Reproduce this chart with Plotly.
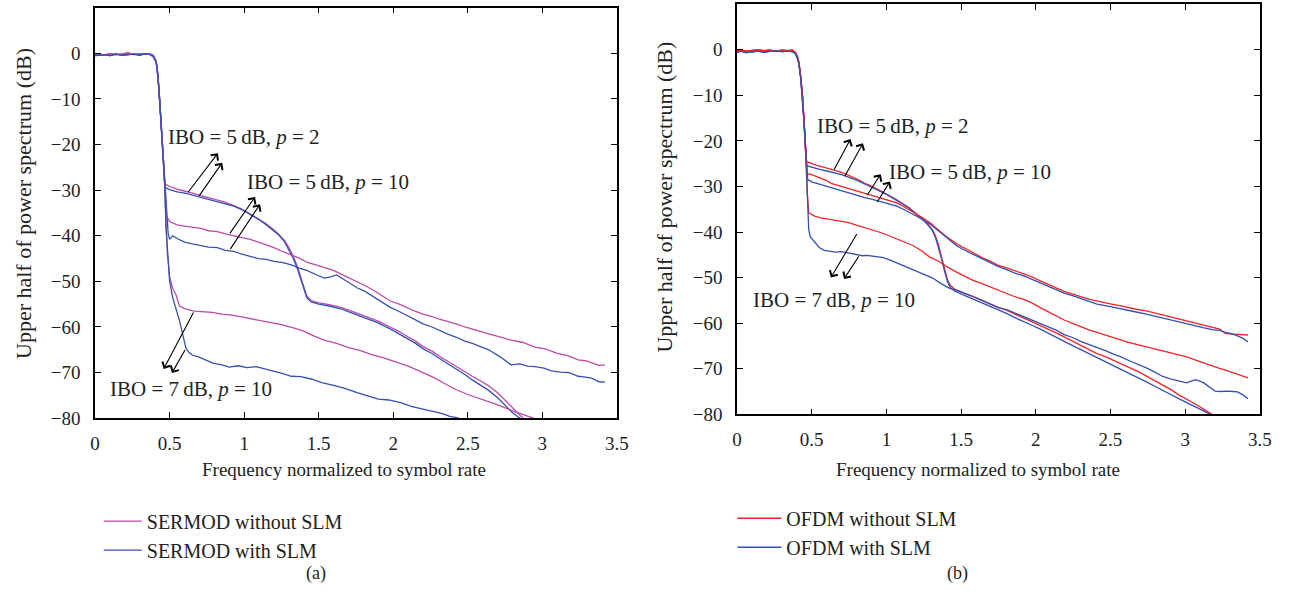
import plotly.graph_objects as go

# ---------------- colours ----------------
MAGENTA = "#bb4aa8"
BLUE = "#3550b0"
RED = "#f4242a"

# ---------------- panel (a): SERMOD ----------------
# common passband + main lobe edge
a_pass_x_mag = [0, 0.03, 0.06, 0.1, 0.14, 0.18, 0.22, 0.26, 0.3, 0.34, 0.37, 0.39, 0.41, 0.422, 0.433, 0.443, 0.453, 0.462]
a_pass_y_mag = [-0.3, -0.2, -0.4, -0.1, -0.3, -0.2, 0.1, -0.3, -0.1, -0.2, -0.2, -0.5, -1.8, -5.0, -9.8, -15.0, -20.6, -25.5]
a_pass_x_blu = [0, 0.03, 0.06, 0.1, 0.14, 0.18, 0.22, 0.26, 0.3, 0.34, 0.37, 0.39, 0.41, 0.422, 0.433, 0.443, 0.453, 0.462]
a_pass_y_blu = [-0.5, -0.4, -0.3, -0.5, -0.2, -0.4, -0.3, -0.2, -0.4, -0.1, -0.3, -0.7, -2.0, -5.3, -10.2, -15.4, -21.0, -26.0]

# IBO = 5 dB, p = 2
a_p2_mag_x = [0.468, 0.5, 0.55, 0.61, 0.68, 0.74, 0.81, 0.874, 0.93, 0.98, 1.04, 1.095, 1.14, 1.18, 1.23, 1.27, 1.3, 1.33, 1.36, 1.39, 1.42, 1.45, 1.5, 1.57, 1.647, 1.72, 1.8, 1.89, 1.98, 2.04, 2.1, 2.15, 2.2, 2.26, 2.31, 2.37, 2.42, 2.48, 2.53, 2.59, 2.64, 2.7, 2.75, 2.81, 2.87]
a_p2_mag_y = [-28.6, -29.2, -29.8, -30.3, -31.0, -31.5, -32.1, -32.7, -33.4, -34.1, -35.2, -36.2, -37.2, -38.2, -39.6, -41.0, -42.6, -44.6, -47.0, -50.2, -53.2, -54.2, -54.7, -55.1, -55.7, -56.5, -57.5, -58.6, -60.0, -61.0, -62.2, -63.1, -64.3, -65.3, -66.4, -67.6, -68.6, -69.9, -70.8, -71.9, -72.9, -74.4, -76.0, -77.9, -80.0]
a_p2_blu_x = [0.468, 0.5, 0.55, 0.61, 0.68, 0.74, 0.81, 0.874, 0.93, 0.98, 1.04, 1.095, 1.14, 1.18, 1.23, 1.27, 1.3, 1.33, 1.36, 1.39, 1.42, 1.45, 1.5, 1.57, 1.647, 1.72, 1.8, 1.89, 1.98, 2.04, 2.1, 2.15, 2.2, 2.26, 2.31, 2.37, 2.42, 2.48, 2.53, 2.59, 2.64, 2.7, 2.75, 2.8, 2.85]
a_p2_blu_y = [-29.4, -29.9, -30.4, -30.7, -31.3, -31.7, -32.3, -32.9, -33.5, -34.2, -35.3, -36.4, -37.4, -38.4, -39.8, -41.3, -43.0, -45.0, -47.5, -50.6, -53.6, -54.5, -55.0, -55.4, -56.0, -56.9, -57.9, -59.0, -60.4, -61.5, -62.6, -63.6, -64.8, -65.8, -66.9, -68.1, -69.2, -70.4, -71.6, -72.8, -73.9, -75.5, -77.2, -78.8, -80.0]

# IBO = 5 dB, p = 10
a_p10_mag_x = [0.472, 0.48, 0.5, 0.55, 0.6, 0.654, 0.71, 0.76, 0.82, 0.874, 0.93, 0.98, 1.04, 1.095, 1.15, 1.2, 1.26, 1.316, 1.37, 1.42, 1.48, 1.536, 1.6, 1.65, 1.7, 1.757, 1.81, 1.87, 1.92, 1.98, 2.04, 2.09, 2.15, 2.2, 2.26, 2.31, 2.37, 2.42, 2.48, 2.53, 2.59, 2.64, 2.72, 2.79, 2.87, 2.95, 3.02, 3.1, 3.17, 3.24, 3.29, 3.33, 3.38, 3.42]
a_p10_mag_y = [-32.0, -35.8, -36.9, -37.6, -37.9, -38.2, -38.4, -38.9, -39.1, -39.6, -40.0, -40.5, -40.8, -41.4, -42.0, -42.6, -43.5, -44.3, -44.9, -45.8, -46.4, -47.1, -47.6, -48.4, -49.2, -50.0, -50.9, -52.0, -53.1, -54.3, -55.0, -55.8, -56.6, -57.2, -57.7, -58.3, -58.8, -59.3, -60.0, -60.5, -61.0, -61.5, -62.2, -62.9, -63.4, -64.4, -64.8, -65.8, -66.3, -67.2, -67.4, -67.9, -68.4, -68.3]
a_p10_blu_x = [0.475, 0.49, 0.5, 0.52, 0.55, 0.6, 0.654, 0.71, 0.76, 0.82, 0.874, 0.93, 0.98, 1.04, 1.095, 1.15, 1.2, 1.26, 1.316, 1.37, 1.42, 1.48, 1.536, 1.58, 1.62, 1.65, 1.7, 1.757, 1.81, 1.87, 1.92, 1.98, 2.04, 2.09, 2.15, 2.2, 2.26, 2.31, 2.37, 2.42, 2.48, 2.53, 2.59, 2.64, 2.72, 2.79, 2.85, 2.9, 2.95, 3.01, 3.06, 3.12, 3.18, 3.24, 3.29, 3.33, 3.38, 3.42]
a_p10_blu_y = [-34.0, -39.5, -40.8, -40.0, -40.6, -41.4, -41.8, -42.2, -42.5, -42.6, -43.2, -43.4, -44.0, -44.5, -45.0, -45.2, -45.6, -45.9, -46.4, -47.1, -47.6, -48.5, -49.3, -49.0, -48.6, -49.2, -50.3, -51.4, -52.2, -53.5, -54.5, -55.7, -56.6, -57.5, -58.5, -59.3, -60.0, -60.8, -61.6, -62.2, -63.1, -63.6, -64.3, -65.0, -66.6, -68.3, -68.1, -68.6, -68.7, -69.0, -69.6, -69.9, -70.0, -70.8, -71.0, -71.2, -72.0, -72.1]

# IBO = 7 dB, p = 10
a_i7_mag_x = [0.468, 0.475, 0.485, 0.5, 0.52, 0.543, 0.566, 0.61, 0.665, 0.72, 0.786, 0.85, 0.92, 1.0, 1.08, 1.16, 1.25, 1.33, 1.4, 1.47, 1.536, 1.62, 1.7, 1.78, 1.85, 1.93, 2.0, 2.1, 2.2, 2.28, 2.35, 2.42, 2.5, 2.57, 2.64, 2.71, 2.8, 2.87, 2.94]
a_i7_mag_y = [-29.0, -36.0, -44.0, -49.0, -51.5, -53.0, -55.4, -56.1, -56.5, -56.6, -56.8, -57.2, -57.4, -57.9, -58.4, -58.8, -59.5, -60.2, -60.9, -62.0, -62.9, -63.6, -64.5, -65.2, -66.0, -66.7, -67.5, -68.6, -70.0, -71.2, -72.5, -73.7, -74.8, -75.6, -76.3, -77.2, -78.4, -79.2, -80.0]
a_i7_blu_x = [0.468, 0.475, 0.49, 0.5, 0.52, 0.543, 0.566, 0.59, 0.61, 0.63, 0.654, 0.69, 0.72, 0.76, 0.79, 0.85, 0.9, 0.96, 1.02, 1.08, 1.14, 1.2, 1.26, 1.316, 1.38, 1.45, 1.52, 1.6, 1.68, 1.757, 1.83, 1.9, 1.97, 2.05, 2.12, 2.2, 2.27, 2.33, 2.38, 2.44]
a_i7_blu_y = [-29.5, -38.0, -46.0, -50.0, -53.5, -56.0, -58.6, -62.0, -64.7, -65.6, -66.2, -66.5, -66.9, -67.6, -67.9, -68.3, -68.8, -68.5, -68.9, -68.7, -69.2, -69.6, -70.2, -70.8, -70.9, -71.4, -72.2, -72.8, -73.5, -74.4, -75.1, -75.8, -76.0, -76.6, -77.4, -78.0, -78.5, -79.0, -79.6, -80.0]

# ---------------- panel (b): OFDM ----------------
b_pass_x_red = [0, 0.03, 0.06, 0.1, 0.14, 0.18, 0.22, 0.26, 0.3, 0.34, 0.37, 0.39, 0.405, 0.414, 0.427, 0.44, 0.448, 0.456, 0.463]
b_pass_y_red = [-0.2, -0.1, -0.3, -0.2, 0.0, -0.2, -0.1, -0.3, -0.1, -0.2, -0.1, -0.6, -1.6, -2.7, -6.0, -10.6, -15.0, -19.2, -24.3]
b_pass_x_blu = [0, 0.03, 0.06, 0.1, 0.14, 0.18, 0.22, 0.26, 0.3, 0.34, 0.37, 0.39, 0.405, 0.414, 0.427, 0.44, 0.448, 0.456, 0.463]
b_pass_y_blu = [-0.5, -0.3, -0.6, -0.4, -0.3, -0.5, -0.4, -0.2, -0.4, -0.3, -0.4, -0.8, -1.9, -3.0, -6.4, -11.0, -15.5, -19.8, -24.8]

# IBO = 5 dB, p = 2
b_p2_red_x = [0.47, 0.5, 0.53, 0.56, 0.6, 0.65, 0.7, 0.75, 0.8, 0.85, 0.9, 0.95, 1.01, 1.07, 1.11, 1.15, 1.19, 1.22, 1.25, 1.28, 1.31, 1.33, 1.35, 1.37, 1.39, 1.41, 1.43, 1.46, 1.53, 1.58, 1.64, 1.7, 1.75, 1.8, 1.86, 1.92, 1.97, 2.03, 2.08, 2.14, 2.19, 2.25, 2.3, 2.36, 2.41, 2.47, 2.52, 2.58, 2.63, 2.69, 2.74, 2.8, 2.85, 2.91, 2.96, 3.02, 3.07, 3.12, 3.18]
b_p2_red_y = [-24.6, -25.0, -25.3, -25.6, -25.9, -26.4, -26.9, -27.6, -28.3, -29.2, -29.9, -30.8, -31.8, -32.9, -33.8, -34.6, -35.7, -36.5, -37.4, -38.4, -39.6, -41.0, -43.0, -45.6, -48.3, -50.6, -51.8, -52.6, -53.5, -54.1, -55.0, -55.9, -56.6, -57.1, -58.0, -58.9, -59.5, -60.4, -61.2, -62.2, -63.0, -64.0, -64.8, -65.9, -66.7, -67.4, -68.2, -69.0, -69.8, -70.7, -71.6, -72.6, -73.6, -74.7, -75.8, -76.8, -77.8, -78.8, -80.0]
b_p2_blu_x = [0.47, 0.5, 0.53, 0.56, 0.6, 0.65, 0.7, 0.75, 0.8, 0.85, 0.9, 0.95, 1.01, 1.07, 1.11, 1.15, 1.19, 1.22, 1.25, 1.28, 1.31, 1.33, 1.35, 1.37, 1.39, 1.41, 1.43, 1.46, 1.53, 1.58, 1.64, 1.7, 1.75, 1.8, 1.86, 1.92, 1.97, 2.03, 2.08, 2.14, 2.19, 2.25, 2.3, 2.36, 2.41, 2.47, 2.52, 2.58, 2.63, 2.69, 2.74, 2.8, 2.85, 2.91, 2.96, 3.02, 3.07, 3.12, 3.17]
b_p2_blu_y = [-25.5, -25.8, -26.0, -26.3, -26.6, -27.0, -27.4, -28.0, -28.6, -29.4, -30.1, -30.9, -31.9, -33.0, -33.9, -34.7, -35.8, -36.6, -37.5, -38.5, -39.8, -41.3, -43.4, -46.0, -48.7, -51.0, -52.3, -53.0, -54.0, -54.7, -55.6, -56.5, -57.2, -57.8, -58.8, -59.6, -60.4, -61.3, -62.2, -63.1, -64.0, -65.0, -65.8, -66.8, -67.5, -68.4, -69.3, -70.2, -71.1, -72.0, -72.9, -73.9, -74.8, -75.7, -76.6, -77.6, -78.4, -79.2, -80.0]

# IBO = 5 dB, p = 10
b_p10_red_x = [0.466, 0.47, 0.5, 0.53, 0.56, 0.6, 0.63, 0.68, 0.74, 0.79, 0.85, 0.9, 0.96, 1.01, 1.07, 1.12, 1.18, 1.24, 1.29, 1.35, 1.4, 1.47, 1.53, 1.58, 1.64, 1.7, 1.75, 1.81, 1.86, 1.92, 1.97, 2.03, 2.08, 2.14, 2.19, 2.25, 2.3, 2.36, 2.41, 2.49, 2.57, 2.62, 2.68, 2.74, 2.79, 2.85, 2.9, 2.96, 3.01, 3.07, 3.12, 3.18, 3.23, 3.27, 3.31, 3.35, 3.39, 3.42]
b_p10_red_y = [-26.0, -27.2, -27.4, -27.8, -28.2, -28.7, -29.3, -29.8, -30.4, -30.9, -31.5, -32.0, -32.5, -33.0, -33.6, -34.5, -35.6, -36.8, -37.9, -39.5, -41.0, -42.6, -43.7, -44.6, -45.6, -46.5, -47.3, -47.9, -48.5, -49.1, -49.8, -50.7, -51.5, -52.3, -53.0, -53.7, -54.2, -54.8, -55.2, -55.7, -56.2, -56.6, -57.0, -57.3, -57.7, -58.2, -58.6, -59.1, -59.5, -60.0, -60.4, -60.9, -61.3, -62.3, -62.4, -62.5, -62.6, -62.6]
b_p10_blu_x = [0.468, 0.473, 0.5, 0.53, 0.56, 0.6, 0.63, 0.68, 0.74, 0.79, 0.85, 0.9, 0.96, 1.01, 1.07, 1.12, 1.18, 1.24, 1.29, 1.35, 1.4, 1.47, 1.53, 1.58, 1.64, 1.7, 1.75, 1.81, 1.86, 1.92, 1.97, 2.03, 2.08, 2.14, 2.19, 2.25, 2.3, 2.36, 2.41, 2.49, 2.57, 2.62, 2.68, 2.74, 2.79, 2.85, 2.9, 2.96, 3.01, 3.07, 3.12, 3.18, 3.23, 3.27, 3.31, 3.35, 3.39, 3.42]
b_p10_blu_y = [-27.0, -28.5, -29.0, -29.3, -29.5, -29.9, -30.2, -30.7, -31.3, -31.8, -32.4, -32.8, -33.3, -33.8, -34.3, -35.1, -36.1, -37.2, -38.2, -39.8, -41.3, -43.0, -44.1, -44.9, -45.9, -46.8, -47.6, -48.3, -49.0, -49.6, -50.3, -51.0, -51.8, -52.6, -53.4, -54.0, -54.6, -55.2, -55.8, -56.3, -56.9, -57.3, -57.6, -58.0, -58.4, -58.9, -59.3, -59.8, -60.2, -60.7, -61.0, -61.4, -61.6, -62.0, -62.3, -62.8, -63.4, -64.1]

# IBO = 7 dB, p = 10
b_i7_red_x = [0.466, 0.47, 0.48, 0.52, 0.56, 0.6, 0.65, 0.7, 0.74, 0.8, 0.85, 0.9, 0.96, 1.01, 1.07, 1.12, 1.18, 1.24, 1.29, 1.35, 1.4, 1.47, 1.53, 1.58, 1.64, 1.7, 1.75, 1.81, 1.86, 1.92, 1.97, 2.03, 2.08, 2.14, 2.19, 2.25, 2.3, 2.36, 2.41, 2.49, 2.57, 2.62, 2.68, 2.74, 2.79, 2.85, 2.9, 2.96, 3.01, 3.07, 3.12, 3.18, 3.23, 3.28, 3.33, 3.38, 3.42]
b_i7_red_y = [-27.0, -31.0, -35.8, -36.5, -36.9, -37.1, -37.4, -37.7, -37.9, -38.5, -39.0, -39.4, -40.1, -40.7, -41.5, -42.2, -43.0, -44.2, -45.5, -46.4, -47.5, -48.8, -49.8, -50.6, -51.3, -52.1, -52.7, -53.6, -54.2, -54.8, -55.5, -56.6, -57.5, -58.5, -59.3, -60.1, -60.8, -61.5, -62.0, -62.9, -63.8, -64.2, -64.7, -65.2, -65.6, -66.1, -66.5, -67.0, -67.4, -68.1, -68.7, -69.4, -69.9, -70.4, -71.0, -71.6, -72.0]
b_i7_blu_x = [0.466, 0.47, 0.475, 0.48, 0.49, 0.517, 0.55, 0.584, 0.62, 0.66, 0.7, 0.75, 0.8, 0.84, 0.87, 0.92, 0.98, 1.03, 1.09, 1.14, 1.2, 1.25, 1.31, 1.36, 1.42, 1.47, 1.53, 1.58, 1.64, 1.7, 1.75, 1.81, 1.86, 1.92, 1.97, 2.03, 2.08, 2.14, 2.19, 2.25, 2.3, 2.36, 2.41, 2.47, 2.52, 2.57, 2.63, 2.69, 2.74, 2.8, 2.85, 2.9, 2.95, 3.01, 3.04, 3.07, 3.12, 3.16, 3.2, 3.24, 3.28, 3.32, 3.35, 3.39, 3.42]
b_i7_blu_y = [-27.0, -32.0, -36.5, -39.4, -41.0, -42.2, -43.4, -44.0, -44.2, -44.4, -44.3, -44.6, -44.8, -45.2, -45.1, -45.4, -45.6, -46.2, -47.0, -47.7, -48.6, -49.2, -50.1, -51.2, -52.3, -52.8, -53.5, -54.2, -55.0, -55.9, -56.6, -57.1, -57.8, -58.6, -59.3, -60.1, -60.9, -61.6, -62.5, -63.2, -64.0, -64.7, -65.4, -66.1, -66.8, -67.4, -68.3, -69.1, -69.8, -70.8, -71.7, -72.2, -72.6, -73.1, -72.7, -72.4, -73.0, -73.9, -74.9, -75.0, -74.9, -75.0, -75.1, -75.8, -76.6]

# ---------------- text ----------------
legend_a = ["SERMOD without SLM", "SERMOD with SLM"]
legend_b = ["OFDM without SLM", "OFDM with SLM"]
label_p2 = "IBO = 5\u2009dB, <i>p</i> = 2"
label_p10 = "IBO = 5\u2009dB, <i>p</i> = 10"
label_i7 = "IBO = 7\u2009dB, <i>p</i> = 10"
x_title = "Frequency normalized to symbol rate"
y_title = "Upper half of power spectrum (dB)"
captions = ["(a)", "(b)"]

FONT = "Liberation Serif, Times New Roman, serif"
W, H = 1301, 603

fig = go.Figure()


def add_curve(px, py, x, y, color, name, show, xa, ya, legend):
    fig.add_trace(go.Scatter(
        x=px + x, y=py + y, mode="lines",
        line=dict(color=color, width=1.3),
        name=name, legendgroup=legend + name, showlegend=show,
        xaxis=xa, yaxis=ya, legend=legend, hoverinfo="skip"))


# panel (a)
add_curve(a_pass_x_mag, a_pass_y_mag, a_p2_mag_x, a_p2_mag_y, MAGENTA, legend_a[0], True, "x", "y", "legend")
add_curve(a_pass_x_blu, a_pass_y_blu, a_p2_blu_x, a_p2_blu_y, BLUE, legend_a[1], True, "x", "y", "legend")
add_curve(a_pass_x_mag, a_pass_y_mag, a_p10_mag_x, a_p10_mag_y, MAGENTA, legend_a[0], False, "x", "y", "legend")
add_curve(a_pass_x_blu, a_pass_y_blu, a_p10_blu_x, a_p10_blu_y, BLUE, legend_a[1], False, "x", "y", "legend")
add_curve(a_pass_x_mag, a_pass_y_mag, a_i7_mag_x, a_i7_mag_y, MAGENTA, legend_a[0], False, "x", "y", "legend")
add_curve(a_pass_x_blu, a_pass_y_blu, a_i7_blu_x, a_i7_blu_y, BLUE, legend_a[1], False, "x", "y", "legend")

# panel (b)
add_curve(b_pass_x_red, b_pass_y_red, b_p2_red_x, b_p2_red_y, RED, legend_b[0], True, "x2", "y2", "legend2")
add_curve(b_pass_x_blu, b_pass_y_blu, b_p2_blu_x, b_p2_blu_y, BLUE, legend_b[1], True, "x2", "y2", "legend2")
add_curve(b_pass_x_red, b_pass_y_red, b_p10_red_x, b_p10_red_y, RED, legend_b[0], False, "x2", "y2", "legend2")
add_curve(b_pass_x_blu, b_pass_y_blu, b_p10_blu_x, b_p10_blu_y, BLUE, legend_b[1], False, "x2", "y2", "legend2")
add_curve(b_pass_x_red, b_pass_y_red, b_i7_red_x, b_i7_red_y, RED, legend_b[0], False, "x2", "y2", "legend2")
add_curve(b_pass_x_blu, b_pass_y_blu, b_i7_blu_x, b_i7_blu_y, BLUE, legend_b[1], False, "x2", "y2", "legend2")

axis_common = dict(
    showline=True, linecolor="black", linewidth=1.5, mirror="ticks",
    ticks="inside", ticklen=6, tickwidth=1.3, tickcolor="black",
    showgrid=False, zeroline=False,
    tickfont=dict(family=FONT, size=19, color="#222"),
)

fig.update_layout(
    width=W, height=H,
    margin=dict(l=0, r=0, t=0, b=0),
    paper_bgcolor="white", plot_bgcolor="white",
    font=dict(family=FONT, color="#222"),
    xaxis=dict(domain=[91.3 / W, 620 / W], range=[0, 3.5], dtick=0.5, anchor="y",
               ticklabelstandoff=7, **axis_common),
    yaxis=dict(domain=[1 - 426 / H, 1 - 7.8 / H], range=[-80, 10], dtick=10, anchor="x",
               ticklabelstandoff=9, **axis_common),
    xaxis2=dict(domain=[741.7 / W, 1271.5 / W], range=[0, 3.5], dtick=0.5, anchor="y2",
                ticklabelstandoff=7, **axis_common),
    yaxis2=dict(domain=[1 - 422 / H, 1 - 4.3 / H], range=[-80, 10], dtick=10, anchor="x2",
                ticklabelstandoff=9, **axis_common),
    legend=dict(x=95 / W, y=1 - 511 / H, xanchor="left", yanchor="top",
                bgcolor="rgba(0,0,0,0)", font=dict(family=FONT, size=20, color="#222"),
                tracegroupgap=0, itemwidth=38),
    legend2=dict(x=737 / W, y=1 - 508 / H, xanchor="left", yanchor="top",
                 bgcolor="rgba(0,0,0,0)", font=dict(family=FONT, size=20, color="#222"),
                 tracegroupgap=0, itemwidth=44),
    showlegend=True,
)

ann = []
# axis titles
ann.append(dict(text=y_title, x=18 / W, y=1 - 207 / H, xref="paper", yref="paper",
                xanchor="center", yanchor="middle",
                textangle=-90, showarrow=False, font=dict(size=22)))
ann.append(dict(text=y_title, x=668 / W, y=1 - 201 / H, xref="paper", yref="paper",
                xanchor="center", yanchor="middle",
                textangle=-90, showarrow=False, font=dict(size=22)))
ann.append(dict(text=x_title, x=343.5 / W, y=1 - 478 / H, xref="paper", yref="paper",
                xanchor="center", yanchor="middle", showarrow=False, font=dict(size=19)))
ann.append(dict(text=x_title, x=986 / W, y=1 - 478 / H, xref="paper", yref="paper",
                xanchor="center", yanchor="middle", showarrow=False, font=dict(size=19)))
# captions
ann.append(dict(text=captions[0], x=315 / W, y=1 - 584 / H, xref="paper", yref="paper",
                xanchor="center", yanchor="middle", showarrow=False, font=dict(size=18)))
ann.append(dict(text=captions[1], x=965 / W, y=1 - 584 / H, xref="paper", yref="paper",
                xanchor="center", yanchor="middle", showarrow=False, font=dict(size=18)))

# curve labels
labels = [
    ("x", "y", label_p2, 0.475, -18.3),
    ("x", "y", label_p10, 1.003, -28.2),
    ("x", "y", label_i7, 0.085, -73.5),
    ("x2", "y2", label_p2, 0.525, -16.7),
    ("x2", "y2", label_p10, 1.007, -26.9),
    ("x2", "y2", label_i7, 0.095, -55.0),
]
for xr, yr, t, xv, yv in labels:
    ann.append(dict(text=t, x=xv, y=yv, xref=xr, yref=yr, xanchor="left", yanchor="middle",
                    showarrow=False, font=dict(size=21)))

# arrows: (head x, head y, tail x, tail y)
arrows = [
    ("x", "y", 0.824, -21.9, 0.616, -30.8),
    ("x", "y", 0.852, -24.0, 0.691, -31.6),
    ("x", "y", 1.073, -31.5, 0.897, -39.8),
    ("x", "y", 1.106, -33.1, 0.901, -43.2),
    ("x", "y", 0.460, -69.2, 0.665, -56.5),
    ("x", "y", 0.515, -70.1, 0.609, -64.7),
    ("x2", "y2", 0.760, -19.6, 0.645, -26.6),
    ("x2", "y2", 0.843, -20.5, 0.716, -28.1),
    ("x2", "y2", 0.962, -27.3, 0.866, -32.2),
    ("x2", "y2", 1.024, -28.9, 0.932, -33.75),
    ("x2", "y2", 0.628, -50.0, 0.808, -40.1),
    ("x2", "y2", 0.716, -50.3, 0.822, -45.0),
]
for xr, yr, hx, hy, tx, ty in arrows:
    ann.append(dict(text="", x=hx, y=hy, ax=tx, ay=ty, xref=xr, yref=yr,
                    axref=xr, ayref=yr, showarrow=True, arrowhead=4,
                    arrowsize=1.6, arrowwidth=1.1, arrowcolor="black", standoff=0))

fig.update_layout(annotations=ann)
fig.write_html("out.html")
